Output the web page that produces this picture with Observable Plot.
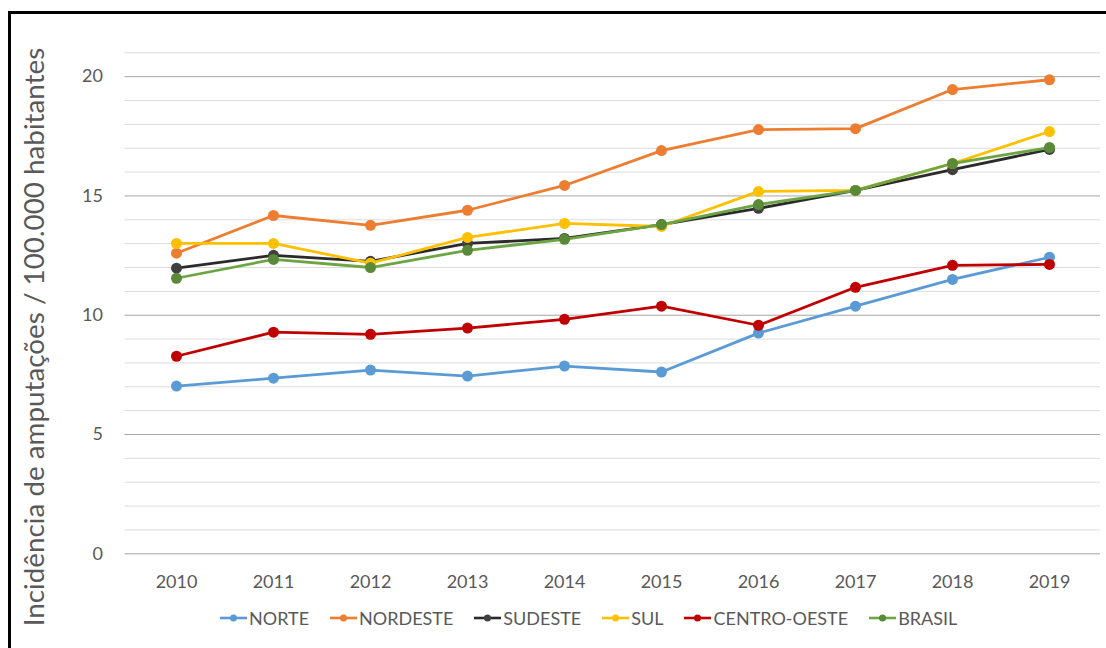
<!DOCTYPE html>
<html><head><meta charset="utf-8">
<script src="https://cdn.jsdelivr.net/npm/d3@7"></script>
<script src="https://cdn.jsdelivr.net/npm/@observablehq/plot@0.6"></script>
<style>
body{margin:0;background:#fff;font-family:Lato,sans-serif;}
#frame{position:absolute;left:8px;top:11px;width:1100px;height:660px;border:3px solid #000;background:#fff;overflow:hidden;}
#chart{position:absolute;left:0;top:0;}
#legend{position:absolute;left:209px;top:593px;display:flex;gap:21px;font-size:18px;color:#595959;line-height:22px;white-space:nowrap;}
.item{display:flex;align-items:center;gap:2px}
</style></head><body>
<div id="frame"><div id="chart"></div><div id="legend"></div></div>
<script>
const years = [2010, 2011, 2012, 2013, 2014, 2015, 2016, 2017, 2018, 2019];
const regions = ["NORTE", "NORDESTE", "SUDESTE", "SUL", "CENTRO-OESTE", "BRASIL"];
const norte = [7.03, 7.36, 7.70, 7.45, 7.87, 7.62, 9.25, 10.38, 11.50, 12.43];
const nordeste = [12.60, 14.18, 13.77, 14.40, 15.44, 16.90, 17.78, 17.82, 19.46, 19.87];
const sudeste = [11.97, 12.51, 12.26, 13.01, 13.22, 13.80, 14.48, 15.23, 16.10, 16.95];
const sul = [13.01, 13.01, 12.18, 13.26, 13.85, 13.72, 15.19, 15.23, 16.36, 17.70];
const centroOeste = [8.28, 9.29, 9.20, 9.46, 9.83, 10.38, 9.58, 11.17, 12.09, 12.13];
const brasil = [11.55, 12.34, 12.00, 12.72, 13.18, 13.80, 14.64, 15.23, 16.36, 17.03];
const lineColors = ["#5B9BD5", "#ED7D31", "#2b2b2b", "#FFC000", "#C00000", "#6ea544"];
const dotColors = ["#5B9BD5", "#ED7D31", "#404040", "#FFC000", "#C00000", "#5a8a37"];
const majorTicks = [0, 5, 10, 15, 20];
const minorTicks = [1, 2, 3, 4, 6, 7, 8, 9, 11, 12, 13, 14, 16, 17, 18, 19, 21];
const yLabel = "Incidência de amputações / 100.000 habitantes";

const series = [norte, nordeste, sudeste, sul, centroOeste, brasil];
const tables = regions.map((r, i) => years.map((yr, j) => ({year: String(yr), value: series[i][j], region: r})));

const seriesMarks = tables.flatMap((t, i) => [
  Plot.line(t, {x: "year", y: "value", stroke: lineColors[i], strokeWidth: 2.8}),
  Plot.dot(t, {x: "year", y: "value", fill: dotColors[i], r: 5.5})
]);

const chart = Plot.plot({
  width: 1100, height: 645,
  marginLeft: 113.5, marginRight: 11, marginTop: 38.3, marginBottom: 105.7,
  style: {fontFamily: "Lato, sans-serif", background: "transparent"},
  x: {type: "point", domain: years.map(String), padding: 0.5},
  y: {domain: [0, 21]},
  marks: [
    Plot.ruleY(minorTicks, {stroke: "#dcdcdc", strokeWidth: 1}),
    Plot.ruleY(majorTicks, {stroke: "#a6a6a6", strokeWidth: 1}),
    Plot.axisX({tickSize: 0, tickPadding: 21, fontSize: 18, fill: "#595959", label: null}),
    Plot.axisY({ticks: majorTicks, tickSize: 0, tickPadding: 22, fontSize: 18, fill: "#595959", label: null}),
    ...seriesMarks,
    Plot.text([yLabel], {text: d => d, frameAnchor: "left", rotate: -90, dx: -89.5, dy: 33.7, fontSize: 27.8, fill: "#595959", textAnchor: "middle", lineAnchor: "middle"})
  ]
});
document.getElementById("chart").appendChild(chart);

const legend = document.getElementById("legend");
regions.forEach((r, i) => {
  const item = document.createElement("div");
  item.className = "item";
  item.innerHTML = `<svg width="27" height="10"><line x1="0" y1="5" x2="27" y2="5" stroke="${lineColors[i]}" stroke-width="2.6"/><circle cx="13.5" cy="5" r="3.5" fill="${dotColors[i]}"/></svg><span>${r}</span>`;
  legend.appendChild(item);
});
</script>
</body></html>
